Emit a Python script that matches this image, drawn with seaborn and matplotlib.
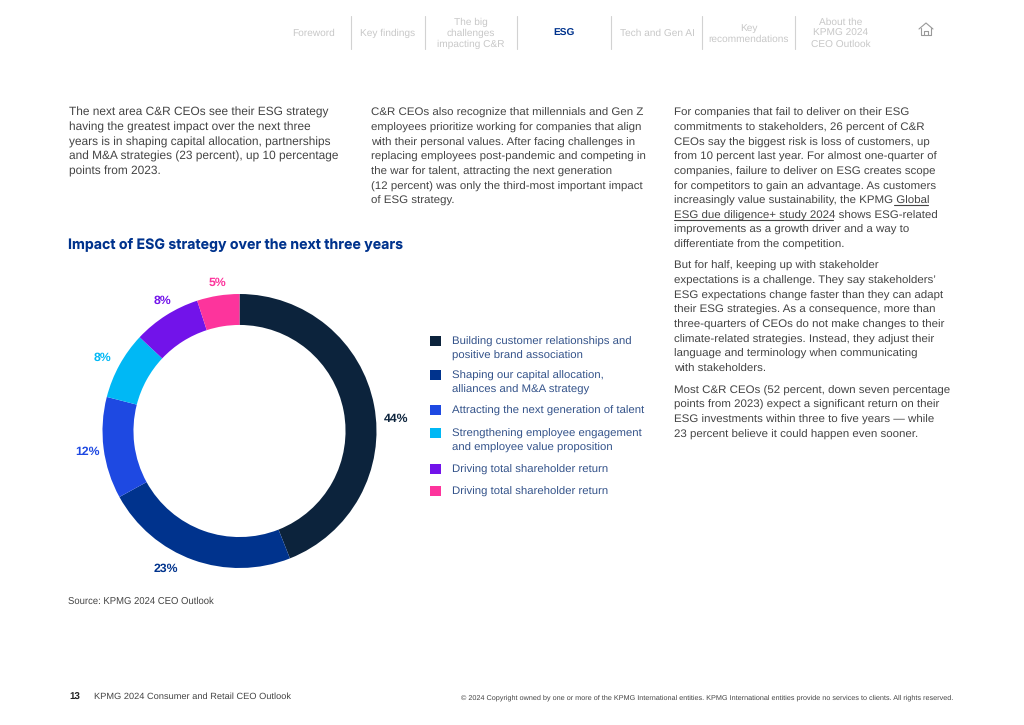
import matplotlib
matplotlib.use("Agg")
import matplotlib.pyplot as plt
from matplotlib.lines import Line2D
import seaborn as sns

# Chart data
categories = [
    ["Building customer relationships and", "positive brand association"],
    ["Shaping our capital allocation,", "alliances and M&A strategy"],
    ["Attracting the next generation of talent"],
    ["Strengthening employee engagement", "and employee value proposition"],
    ["Driving total shareholder return"],
    ["Driving total shareholder return"],
]
values = [44, 23, 12, 8, 8, 5]
value_labels = ["44%", "23%", "12%", "8%", "8%", "5%"]
colors = ["#0c233c", "#00338d", "#1e49e2", "#00b8f5", "#7213ea", "#fd349c"]
label_xy = [(396, 419), (166, 569), (87, 452), (102, 358), (162, 301), (217, 283)]
legend_y = [341, 375, 410, 433, 469, 491]

nav_items = ["Foreword", "Key findings", "The big\nchallenges\nimpacting C&R", "ESG",
             "Tech and Gen AI", "Key\nrecommendations", "About the\nKPMG 2024\nCEO Outlook"]
nav_x = [314, 388, 471, 564, 657, 749, 841]
nav_sep_x = [351, 425, 517, 611, 702, 795]

col1 = ["The next area C&R CEOs see their ESG strategy",
        "having the greatest impact over the next three",
        "years is in shaping capital allocation, partnerships",
        "and M&A strategies (23 percent), up 10 percentage",
        "points from 2023."]
col2 = ["C&R CEOs also recognize that millennials and Gen Z",
        "employees prioritize working for companies that align",
        "with their personal values. After facing challenges in",
        "replacing employees post-pandemic and competing in",
        "the war for talent, attracting the next generation",
        "(12 percent) was only the third-most important impact",
        "of ESG strategy."]
col3a = ["For companies that fail to deliver on their ESG",
         "commitments to stakeholders, 26 percent of C&R",
         "CEOs say the biggest risk is loss of customers, up",
         "from 10 percent last year. For almost one-quarter of",
         "companies, failure to deliver on ESG creates scope",
         "for competitors to gain an advantage. As customers",
         "increasingly value sustainability, the KPMG Global",
         "ESG due diligence+ study 2024 shows ESG-related",
         "improvements as a growth driver and a way to",
         "differentiate from the competition."]
col3b = ["But for half, keeping up with stakeholder",
         "expectations is a challenge. They say stakeholders\u2019",
         "ESG expectations change faster than they can adapt",
         "their ESG strategies. As a consequence, more than",
         "three-quarters of CEOs do not make changes to their",
         "climate-related strategies. Instead, they adjust their",
         "language and terminology when communicating",
         "with stakeholders."]
col3c = ["Most C&R CEOs (52 percent, down seven percentage",
         "points from 2023) expect a significant return on their",
         "ESG investments within three to five years \u2014 while",
         "23 percent believe it could happen even sooner."]

W, H = 1024, 725
sns.set_theme(style="white")
plt.rcParams['font.family'] = ['Liberation Sans', 'DejaVu Sans']
plt.rcParams['text.hinting'] = 'no_hinting'
fig = plt.figure(figsize=(W / 100, H / 100), dpi=100, facecolor="white")


def put(x, y, s, **kw):
    # x, y in pixels from the top left of the page
    kw.setdefault("va", "center")
    kw.setdefault("fontsize", 8.24)
    kw.setdefault("color", "#444444")
    return fig.text(x / W, 1 - y / H, s, **kw)


def rule(xs, ys, color, lw=0.8):
    fig.add_artist(Line2D([x / W for x in xs], [1 - y / H for y in ys], color=color, lw=lw))


# Donut
ax = fig.add_axes([102.5 / W, 1 - 568 / H, 274 / W, 274 / H])
palette = sns.color_palette(colors)
wedges, _ = ax.pie(values, colors=palette, startangle=90, counterclock=False,
                   radius=1, wedgeprops={"width": 0.226, "linewidth": 0})
ax.set_xlim(-1, 1)
ax.set_ylim(-1, 1)

for (x, y), txt, c in zip(label_xy, value_labels, colors):
    put(x, y, txt, color=c, fontsize=8.8, fontweight="bold", ha="center")

# One small legend per row, so the swatch sits on the first line of its label
blank = Line2D([], [], lw=0)
for wedge, lines, y in zip(wedges, categories, legend_y):
    handles = [wedge] + [blank] * (len(lines) - 1)
    fig.legend(handles, lines, loc="upper left", bbox_to_anchor=(429.5 / W, 1 - (y - 5) / H),
               frameon=False, fontsize=8.2, labelcolor="#34538a", handlelength=1,
               handleheight=1, handletextpad=0.98, labelspacing=0.22, borderpad=0,
               borderaxespad=0)

put(68, 245, "Impact of ESG strategy over the next three years",
    color="#00338d", fontsize=10.2, fontweight="bold", family=["Inter", "DejaVu Sans"])
put(68, 601.5, "Source: KPMG 2024 CEO Outlook", fontsize=6.87)

# Body text columns
for x, y0, lines, size in [(69, 112, col1, 8.6), (371, 112, col2, 8.24), (674, 112, col3a, 8.24),
                           (674, 265, col3b, 8.24), (674, 389.5, col3c, 8.24)]:
    for i, line in enumerate(lines):
        put(x, y0 + 4 + i * 14.65, line, va="baseline", fontsize=size)
# Link underline
rule([894, 928], [205, 205], "#444444")
rule([674, 833], [219.5, 219.5], "#444444")

# Navigation
for x, s in zip(nav_x, nav_items):
    active = s == "ESG"
    put(x, 33.5, s, ha="center", ma="center", linespacing=1.2,
        fontsize=7.3, color="#00338d" if active else "#c8c8c8",
        fontweight="bold" if active else "normal")
for x in nav_sep_x:
    rule([x, x], [16, 49], "#d2d2d2")
# Home icon
rule([919, 926, 933], [29, 23, 29], "#999999")
rule([921, 921, 931, 931], [28, 35, 35, 28], "#999999")
rule([924, 924, 928, 928], [35, 31, 31, 35], "#999999")

# Footer
put(69, 697, "13", fontsize=7, fontweight="bold", color="#222222")
put(94, 697, "KPMG 2024 Consumer and Retail CEO Outlook", fontsize=6.63)
put(953, 697.5, "\u00a9 2024 Copyright owned by one or more of the KPMG International entities. "
    "KPMG International entities provide no services to clients. All rights reserved.",
    fontsize=5.26, ha="right")

fig.savefig("out.png", dpi=100)
